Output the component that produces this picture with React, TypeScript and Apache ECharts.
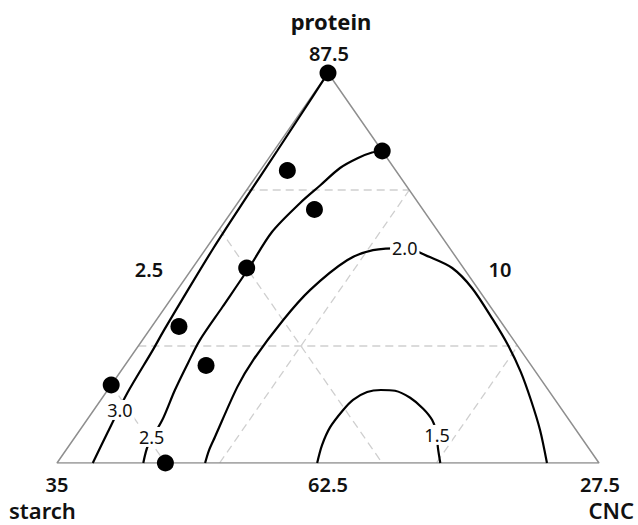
import React, { useEffect, useRef } from "react";
import * as echarts from "echarts";

// Component ranges (real %, total = 100)
const proteinRange = [62.5, 87.5];
const starchRange = [10, 35];
const cncRange = [2.5, 27.5];

// Corner / edge tick labels
const vertexLabels = ["87.5", "35", "27.5"]; // protein, starch, CNC
const edgeLabels = ["2.5", "10", "62.5"]; // left, right, bottom
const componentNames = ["protein", "starch", "CNC"];

// Design points (real %)
const designProtein = [87.5, 82.5, 81.25, 78.75, 75, 71.25, 67.5, 68.75, 62.5];
const designStarch = [10, 10, 15, 15, 20, 25, 30, 25, 30];
const designCNC = [2.5, 7.5, 3.75, 6.25, 5, 3.75, 2.5, 6.25, 7.5];

// Grid lines (real %)
const proteinGrid = [70, 80];
const starchGrid = [20, 30];
const cncGrid = [10, 20];

// Contours: [protein, CNC] pairs (starch = 100 - protein - CNC)
const contour30 = [
  [62.5, 4.15], [64.5, 3.85], [67.0, 3.5], [69.75, 3.3], [71.0, 3.18], [73.5, 3.0],
  [76.25, 2.83], [79.25, 2.73], [82.5, 2.65], [85.0, 2.58], [87.5, 2.5],
];
const contour25 = [
  [62.5, 6.48], [63.65, 6.13], [65.25, 5.98], [67.18, 5.6], [68.9, 5.34], [70.38, 5.15],
  [72.5, 5.13], [75.0, 5.1], [77.31, 5.01], [79.17, 5.38], [80.29, 5.74], [81.41, 6.1],
  [82.05, 6.61], [82.4, 7.08], [82.5, 7.5],
];
const contour20 = [
  [62.5, 9.33], [63.33, 9.1], [64.17, 8.95], [67.38, 8.38], [69.1, 8.25], [71.67, 8.35],
  [73.6, 8.63], [75.5, 9.38], [76.15, 10.25], [76.28, 11.65], [75.7, 13.1], [75.0, 14.48],
  [73.72, 16.03], [71.67, 18.03], [70.06, 19.52], [68.33, 20.98], [66.54, 22.34],
  [64.62, 23.72], [62.5, 25.1],
];
const contour15 = [
  [62.5, 14.5], [63.65, 14.15], [64.8, 13.95], [65.9, 14.0], [66.55, 14.13], [67.05, 14.53],
  [67.18, 15.1], [67.13, 15.78], [66.68, 16.7], [65.98, 17.65], [65.25, 18.43],
  [64.3, 19.13], [63.53, 19.55], [62.5, 20.18],
];
const contourLevels = ["3.0", "2.5", "2.0", "1.5"];
const contourLabelPos = [
  [65.9, 3.7],
  [64.17, 6.03],
  [76.28, 11.65],
  [64.3, 19.13],
];

const span = proteinRange[1] - proteinRange[0];

// ternary (real protein, real CNC) -> cartesian [x, y] in unit triangle
function toXY(p: number, c: number): number[] {
  const t = (p - proteinRange[0]) / span;
  const r = (c - cncRange[0]) / span;
  return [r + t / 2, t];
}

const FONT = "'Noto Sans', 'DejaVu Sans', sans-serif";

export default function App() {
  const ref = useRef<HTMLDivElement>(null);
  useEffect(() => {
    if (!ref.current) return;
    const chart = echarts.init(ref.current, null, { renderer: "svg" });

    const pMin = proteinRange[0], pMax = proteinRange[1];
    const cMin = cncRange[0], cMax = cncRange[1];
    const sMin = starchRange[0];
    const total = 100;

    // vertices: protein top, starch bottom-left, CNC bottom-right
    const triangle = [toXY(pMax, cMin), toXY(pMin, cMin), toXY(pMin, cMax), toXY(pMax, cMin)];

    const gridSegments: number[][][] = [];
    proteinGrid.forEach((p) => {
      gridSegments.push([toXY(p, cMin), toXY(p, total - p - sMin)]);
    });
    cncGrid.forEach((c) => {
      gridSegments.push([toXY(pMin, c), toXY(total - c - sMin, c)]);
    });
    starchGrid.forEach((s) => {
      gridSegments.push([toXY(total - s - cMin, cMin), toXY(pMin, total - s - pMin)]);
    });

    const gridSeries = gridSegments.map((seg) => ({
      type: "line",
      data: seg,
      showSymbol: false,
      silent: true,
      z: 1,
      lineStyle: { color: "#cfcfcf", width: 1.3, type: [8, 5] },
    }));

    const contours = [contour30, contour25, contour20, contour15];
    const contourSeries = contours.map((cs) => ({
      type: "line",
      data: cs.map((d) => toXY(d[0], d[1])),
      showSymbol: false,
      smooth: 0.3,
      silent: true,
      z: 3,
      lineStyle: { color: "#000", width: 2.2 },
    }));

    const txt = (
      text: string,
      x: number,
      y: number,
      size: number,
      weight: string | number,
      align: string = "center",
      bg?: string
    ) => ({
      type: "text",
      x,
      y,
      z: 10,
      style: {
        text,
        fontSize: size,
        fontWeight: weight,
        fontFamily: FONT,
        fill: "#111",
        align,
        verticalAlign: "middle",
        textAlign: align,
        textVerticalAlign: "middle",
        ...(bg ? { backgroundColor: bg, padding: [1, 2] } : {}),
      },
    });

    const staticTexts = [
      txt(componentNames[0], 331, 21, 22, "bold"),
      txt(vertexLabels[0], 329, 53, 20, 600),
      txt(edgeLabels[0], 149, 269, 20, 600),
      txt(edgeLabels[1], 500, 269, 20, 600),
      txt(vertexLabels[1], 57, 484, 20, 600),
      txt(edgeLabels[2], 328, 484, 20, 600),
      txt(vertexLabels[2], 600, 484, 20, 600),
      txt(componentNames[1], 9, 510, 22, 600, "left"),
      txt(componentNames[2], 634, 510, 22, 600, "right"),
    ];

    chart.setOption({
      animation: false,
      backgroundColor: "#fff",
      grid: { left: 57, right: 39, top: 73, bottom: 62 },
      xAxis: { type: "value", min: 0, max: 1, show: false },
      yAxis: { type: "value", min: 0, max: 1, show: false },
      graphic: staticTexts,
      series: [
        ...gridSeries,
        {
          type: "line",
          data: triangle,
          showSymbol: false,
          silent: true,
          z: 2,
          lineStyle: { color: "#8f8f8f", width: 1.5 },
        },
        ...contourSeries,
        {
          type: "scatter",
          data: designProtein.map((p, i) => toXY(p, designCNC[i])),
          symbolSize: 17,
          silent: true,
          z: 4,
          itemStyle: { color: "#000", opacity: 1 },
        },
      ],
    });

    // contour level labels, placed through the grid's scales
    const levelTexts = contourLabelPos.map((d, i) => {
      const px = chart.convertToPixel({ gridIndex: 0 }, toXY(d[0], d[1])) as number[];
      return txt(contourLevels[i], px[0], px[1], 18, "normal", "center", "#fff");
    });
    chart.setOption({ graphic: [...staticTexts, ...levelTexts] });

    return () => chart.dispose();
  }, []);
  return (
    <div
      ref={ref}
      style={{ position: "fixed", left: 0, top: 0, width: 638, height: 525 }}
    />
  );
}
